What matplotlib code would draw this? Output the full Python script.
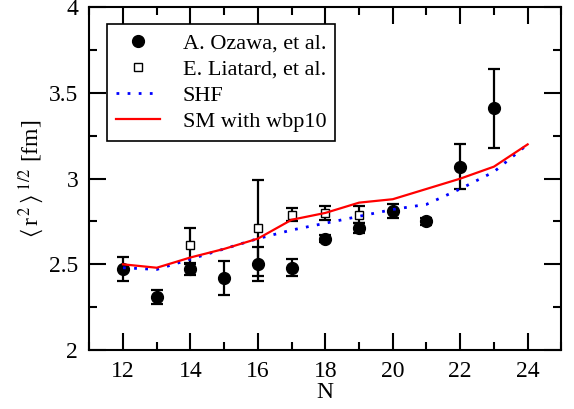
import matplotlib
matplotlib.use("Agg")
import matplotlib.pyplot as plt
from matplotlib.ticker import MultipleLocator, FormatStrFormatter

plt.rcParams['font.family'] = ['Liberation Serif', 'DejaVu Serif']
plt.rcParams['mathtext.fontset'] = 'stix'

# Measured radii (Ozawa et al.)
n_ozawa = [12, 13, 14, 15, 16, 17, 18, 19, 20, 21, 22, 23]
r_ozawa = [2.47, 2.31, 2.47, 2.42, 2.50, 2.48, 2.65, 2.71, 2.81, 2.75, 3.07, 3.41]
e_ozawa = [0.07, 0.04, 0.03, 0.10, 0.10, 0.05, 0.02, 0.03, 0.04, 0.02, 0.13, 0.23]

# Measured radii (Liatard et al.)
n_liatard = [14, 16, 17, 18, 19]
r_liatard = [2.61, 2.71, 2.79, 2.80, 2.79]
e_liatard = [0.10, 0.28, 0.04, 0.04, 0.05]

# Model calculations
n_model = [12, 13, 14, 15, 16, 17, 18, 19, 20, 21, 22, 23, 24]
r_shf = [2.48, 2.47, 2.53, 2.59, 2.65, 2.70, 2.74, 2.78, 2.82, 2.85, 2.94, 3.04, 3.20]
r_sm = [2.50, 2.48, 2.54, 2.59, 2.65, 2.76, 2.80, 2.86, 2.88, 2.94, 3.00, 3.07, 3.20]

fig = plt.figure(figsize=(5.74, 4.09), dpi=100)
ax = fig.add_axes([0.1556, 0.1443, 0.8224, 0.8378])

eb_kw = dict(fmt='none', ecolor='black', elinewidth=1.6, capsize=4, capthick=1.6, zorder=2)
ax.errorbar(n_ozawa, r_ozawa, yerr=e_ozawa, **eb_kw)
ax.errorbar(n_liatard, r_liatard, yerr=e_liatard, **eb_kw)

h1, = ax.plot(n_ozawa, r_ozawa, 'o', color='black', markersize=8.5, linestyle='none',
              label='A. Ozawa, et al.', zorder=3)
h2, = ax.plot(n_liatard, r_liatard, 's', markerfacecolor='white', markeredgecolor='black',
              markeredgewidth=1.0, markersize=6, linestyle='none',
              label='E. Liatard, et al.', zorder=4)
h3, = ax.plot(n_model, r_shf, color='#0000ff', linewidth=2.0, linestyle=(0, (1, 3)),
              label='SHF', zorder=5)
h4, = ax.plot(n_model, r_sm, color='#ff0000', linewidth=1.6, label='SM with wbp10', zorder=5)

ax.set_xlim(11, 25)
ax.set_ylim(2, 4)
ax.xaxis.set_major_locator(MultipleLocator(2))
ax.xaxis.set_minor_locator(MultipleLocator(1))
ax.yaxis.set_major_locator(MultipleLocator(0.5))
ax.yaxis.set_minor_locator(MultipleLocator(0.25))
ax.yaxis.set_major_formatter(FormatStrFormatter('%g'))

ax.tick_params(which='both', direction='in', top=True, right=True, width=1.5)
ax.tick_params(which='major', length=12, labelsize=17, pad=8)
ax.tick_params(which='minor', length=6)
for s in ax.spines.values():
    s.set_linewidth(1.5)

ax.set_xlabel('N', fontsize=17, labelpad=0)
ax.set_ylabel(r'$\langle\,$r$^{\,2}\,\rangle^{\;1/2}$ [fm]', fontsize=17, labelpad=2)

leg = ax.legend(handles=[h1, h2, h3, h4], loc='upper left',
                bbox_to_anchor=(0.0375, 0.951), borderaxespad=0,
                fontsize=16, frameon=True, fancybox=False, edgecolor='black',
                framealpha=1, handlelength=2.0, handletextpad=1.0,
                labelspacing=0.25, borderpad=0.4)
leg.get_frame().set_linewidth(1.2)

fig.savefig('out.png', dpi=100)
